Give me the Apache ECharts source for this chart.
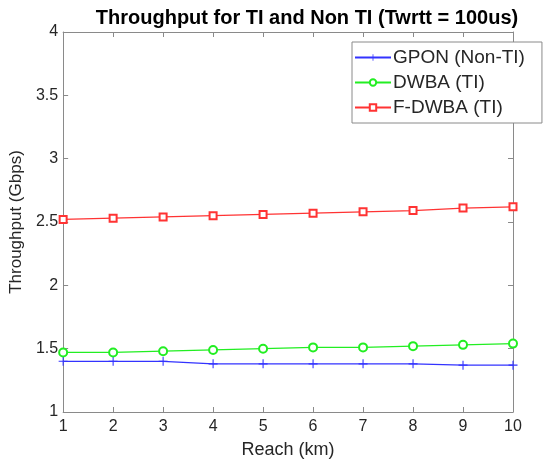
<!DOCTYPE html>
<html>
<head>
<meta charset="utf-8">
<script src="https://cdn.jsdelivr.net/npm/echarts@6/dist/echarts.min.js"></script>
<style>
  html, body { margin: 0; padding: 0; background: #fff; }
  #container { width: 552px; height: 464px; }
</style>
</head>
<body>
<div id="container"></div>
<script>
// valores
var reach = [1, 2, 3, 4, 5, 6, 7, 8, 9, 10];
var gpon = [1.40, 1.40, 1.40, 1.38, 1.38, 1.38, 1.38, 1.38, 1.37, 1.37];
var dwba = [1.47, 1.47, 1.48, 1.49, 1.50, 1.51, 1.51, 1.52, 1.53, 1.54];
var fdwba = [2.52, 2.53, 2.54, 2.55, 2.56, 2.57, 2.58, 2.59, 2.61, 2.62];
var seriesNames = ['GPON (Non-TI)', 'DWBA (TI)', 'F-DWBA (TI)'];

function pares(ys) {
    return reach.map(function (x, i) { return [x, ys[i]]; });
}

var fonte = 'Liberation Sans, Arial, sans-serif';
var corEixo = '#8a8a8a';
var corTexto = '#262626';
var azul = '#3333ff', verde = '#22ee22', vermelho = '#ff3333';

var dom = document.getElementById('container');
var myChart = echarts.init(dom);

var eixoBase = {
    axisLine: { show: true, lineStyle: { color: corEixo, width: 1 } },
    axisTick: { show: true, inside: true, length: 5, lineStyle: { color: corEixo } },
    splitLine: { show: false }
};

var option = {
    animation: false,
    backgroundColor: '#fff',
    title: {
        text: 'Throughput for TI and Non TI (Twrtt = 100us)',
        left: 302,
        textAlign: 'center',
        top: 3,
        textStyle: { fontFamily: fonte, fontSize: 20, fontWeight: 'bold', color: '#000' }
    },
    legend: {
        data: seriesNames,
        left: 352,
        top: 42,
        orient: 'vertical',
        backgroundColor: '#fff',
        borderColor: corEixo,
        borderWidth: 1,
        padding: [6, 17, 6, 2],
        itemWidth: 36,
        itemHeight: 8,
        itemGap: 6,
        textStyle: { fontFamily: fonte, fontSize: 19, color: corTexto, padding: [0, 0, 0, -3] }
    },
    grid: { left: 61, right: 39, top: 32, bottom: 52 },
    xAxis: [
        Object.assign({}, eixoBase, {
            type: 'value', min: 1, max: 10, interval: 1,
            name: 'Reach (km)', nameLocation: 'middle', nameGap: 29,
            nameTextStyle: { fontFamily: fonte, fontSize: 18, color: corTexto },
            axisLabel: { fontFamily: fonte, fontSize: 16, color: corTexto, margin: 7 }
        }),
        Object.assign({}, eixoBase, {
            type: 'value', min: 1, max: 10, interval: 1, position: 'top',
            axisLabel: { show: false }
        })
    ],
    yAxis: [
        Object.assign({}, eixoBase, {
            type: 'value', min: 1, max: 4, interval: 0.5,
            name: 'Throughput (Gbps)', nameLocation: 'middle', nameGap: 33,
            nameTextStyle: { fontFamily: fonte, fontSize: 17, color: corTexto },
            axisLabel: { fontFamily: fonte, fontSize: 16, color: corTexto, margin: 5 }
        }),
        Object.assign({}, eixoBase, {
            type: 'value', min: 1, max: 4, interval: 0.5, position: 'right',
            axisLabel: { show: false }
        })
    ],
    series: [
        {
            name: seriesNames[0],
            type: 'line',
            color: azul,
            data: pares(gpon),
            symbol: 'path://M-0.6,-5L0.6,-5L0.6,-0.6L5,-0.6L5,0.6L0.6,0.6L0.6,5L-0.6,5L-0.6,0.6L-5,0.6L-5,-0.6L-0.6,-0.6Z',
            symbolSize: 9,
            showAllSymbol: true,
            lineStyle: { width: 1.3, color: azul },
            itemStyle: { color: azul }
        },
        {
            name: seriesNames[1],
            type: 'line',
            color: verde,
            data: pares(dwba),
            symbol: 'emptyCircle',
            symbolSize: 8,
            lineStyle: { width: 1.3, color: verde },
            itemStyle: { color: verde, borderWidth: 1.2 }
        },
        {
            name: seriesNames[2],
            type: 'line',
            color: vermelho,
            data: pares(fdwba),
            symbol: 'emptyRect',
            symbolSize: 7,
            lineStyle: { width: 1.3, color: vermelho },
            itemStyle: { color: vermelho, borderWidth: 1.2 }
        }
    ]
};

myChart.setOption(option, true);
</script>
</body>
</html>
